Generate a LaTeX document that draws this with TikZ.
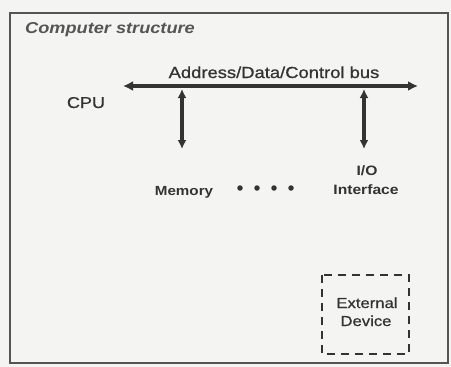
\documentclass[tikz,border=0pt]{standalone}
\usepackage{fontspec}
\setmainfont{Liberation Sans}
\newfontfamily\widesans[FakeStretch=1.15]{Liberation Sans}
\newfontfamily\widesanssemi[FakeStretch=1.15,FakeBold=0.8]{Liberation Sans}
\usetikzlibrary{arrows.meta}
\definecolor{paper}{HTML}{F4F4F2}
\definecolor{ink}{HTML}{333333}
\definecolor{framegray}{HTML}{555555}
\tikzset{
  x=1pt, y=1pt,
  lbl/.style={inner sep=0pt, text=ink, font=\widesans},
  busline/.style={draw=ink, line width=3.8pt,
    {Latex[length=10pt,width=10pt]}-{Latex[length=10pt,width=10pt]}},
  tapline/.style={draw=ink, line width=3.8pt,
    {Latex[length=9pt,width=9pt]}-{Latex[length=9pt,width=9pt]}},
  devbox/.style={draw=ink, line width=2.6pt, dash pattern=on 8pt off 6pt},
  dotmark/.style={circle, fill=ink, inner sep=0pt, minimum size=5.5pt},
}
\begin{document}
\begin{tikzpicture}
  \useasboundingbox (0,0) rectangle (451,-367);
  \fill[paper] (0,0) rectangle (451,-367);

  % outer frame
  \draw[framegray, line width=2.8pt] (10,-13) rectangle (448,-363);
  \node[lbl, anchor=base west, text=framegray, font=\widesans\fontsize{15.8}{18}\selectfont\bfseries\itshape]
    (title) at (25,-33) {Computer structure};

  % system bus
  \coordinate (busL) at (123,-86);
  \coordinate (busR) at (418,-86);
  \draw[busline] (busL) -- (busR);
  \node[lbl, anchor=base, font=\widesanssemi\fontsize{16}{18}\selectfont]
    (buslabel) at (274,-78) {Address/Data/Control bus};
  \node[lbl, anchor=base, font=\widesanssemi\fontsize{15.7}{18}\selectfont]
    (cpu) at (86,-108) {CPU};

  % taps from the bus
  \coordinate (memTap) at (182,-89);
  \coordinate (memEnd) at (182,-149);
  \coordinate (ioTap) at (364,-89);
  \coordinate (ioEnd) at (364,-149);
  \draw[tapline] (memTap) -- (memEnd);
  \draw[tapline] (ioTap) -- (ioEnd);

  % units on the bus
  \node[lbl, anchor=base, font=\widesans\fontsize{13.2}{16}\selectfont\bfseries]
    (memory) at (184,-195) {Memory};
  \foreach \i/\px in {1/240,2/257,3/274,4/291}
    \node[dotmark] (dot\i) at (\px,-188) {};
  \node[lbl, anchor=base, font=\widesans\fontsize{13.6}{16}\selectfont\bfseries]
    (io) at (367,-175) {I/O};
  \node[lbl, anchor=base, font=\widesans\fontsize{13.6}{16}\selectfont\bfseries]
    (iface) at (366,-194) {Interface};

  % external device
  \draw[devbox] (322,-275) rectangle (409,-354);
  \node[lbl, anchor=base, font=\widesanssemi\fontsize{14.5}{17}\selectfont]
    (ext) at (367,-308) {External};
  \node[lbl, anchor=base, font=\widesanssemi\fontsize{14.5}{17}\selectfont]
    (dev) at (366,-326) {Device};
\end{tikzpicture}
\end{document}
